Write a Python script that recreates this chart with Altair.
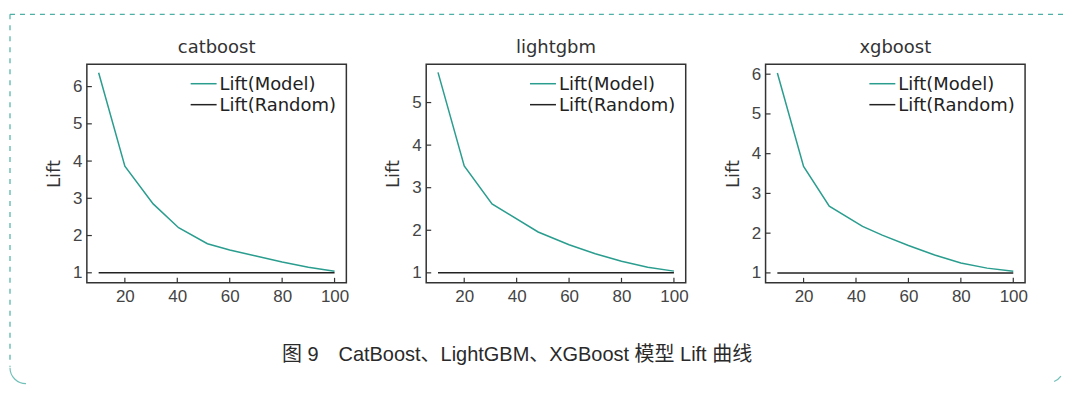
import altair as alt
import pandas as pd

# ---- data ----
names = ["catboost", "lightgbm", "xgboost"]

x_cat = [10, 20, 30.8, 40.5, 51.5, 60, 70, 80, 90, 100]
lift_cat = [6.37, 3.86, 2.85, 2.21, 1.78, 1.61, 1.45, 1.29, 1.15, 1.04]

x_light = [10, 20, 30.6, 48.2, 60, 70, 80, 90, 100]
lift_light = [5.71, 3.51, 2.62, 1.96, 1.66, 1.45, 1.27, 1.13, 1.04]

x_xgb = [10, 20, 29.8, 42.5, 50, 60, 70, 80, 90, 100]
lift_xgb = [6.03, 3.68, 2.68, 2.17, 1.95, 1.69, 1.45, 1.25, 1.12, 1.04]

random_x = [10, 100]
random_lift = [1, 1]

x_ticks = [20, 40, 60, 80, 100]
y_ticks_cat = [1, 2, 3, 4, 5, 6]
y_ticks_light = [1, 2, 3, 4, 5]
y_ticks_xgb = [1, 2, 3, 4, 5, 6]

y_dom_cat = [0.73, 6.6]
y_dom_light = [0.765, 5.9]
y_dom_xgb = [0.75, 6.25]
x_dom = [5.5, 104.5]

series = ["Lift(Model)", "Lift(Random)"]
series_colors = ["#2a9d8f", "#222222"]

caption = "图 9\u2003CatBoost、LightGBM、XGBoost 模型 Lift 曲线"

W, H = 260, 219
TICK_FONT = "Liberation Sans, Arial, sans-serif"
TEXT_FONT = "DejaVu Sans"
FRAME = "#4cb0a6"


def panel(name, xs, ys, ydom, yticks, decor=False):
    df = pd.concat([
        pd.DataFrame({"x": xs, "lift": ys, "series": series[0]}),
        pd.DataFrame({"x": random_x, "lift": random_lift, "series": series[1]}),
    ], ignore_index=True)

    color = alt.Color("series:N",
                      scale=alt.Scale(domain=series, range=series_colors),
                      legend=None)

    lines = alt.Chart(df).mark_line(strokeWidth=1.5).encode(
        x=alt.X("x:Q",
                scale=alt.Scale(domain=x_dom, nice=False, zero=False),
                axis=alt.Axis(values=x_ticks, title=None, ticks=False, domain=False,
                              grid=False, labelPadding=6, labelFont=TICK_FONT,
                              labelFontSize=17, labelColor="#444")),
        y=alt.Y("lift:Q",
                scale=alt.Scale(domain=ydom, nice=False, zero=False),
                axis=alt.Axis(values=yticks, title="Lift", ticks=False, domain=False,
                              grid=False, labelPadding=5, labelFont=TICK_FONT,
                              labelFontSize=17, labelColor="#444",
                              titleFont=TEXT_FONT, titleFontSize=18,
                              titleFontWeight="normal", titleColor="#333",
                              titlePadding=9)),
        color=color,
    )

    # inward tick marks
    xt = alt.Chart(pd.DataFrame({"x": x_ticks})).mark_rule(
        color="#333", strokeWidth=1.2).encode(
        x="x:Q", y=alt.value(H), y2=alt.value(H - 5))
    yt = alt.Chart(pd.DataFrame({"lift": yticks})).mark_rule(
        color="#333", strokeWidth=1.2).encode(
        y="lift:Q", x=alt.value(0), x2=alt.value(5))

    # panel title
    ttl = alt.Chart(pd.DataFrame({"t": [name]})).mark_text(
        font=TEXT_FONT, fontSize=18, color="#333", align="center",
        baseline="middle").encode(
        text="t:N", x=alt.value(W / 2), y=alt.value(-16))

    layers = [lines, xt, yt, ttl]

    # legend (inside, upper right)
    for i, s in enumerate(series):
        ld = pd.DataFrame({"series": [s]})
        ry = 19.5 + 21 * i
        layers.append(alt.Chart(ld).mark_rule(strokeWidth=1.5).encode(
            x=alt.value(104), x2=alt.value(130), y=alt.value(ry), color=color))
        layers.append(alt.Chart(ld).mark_text(
            font=TEXT_FONT, fontSize=18, color="#222", align="left",
            baseline="middle").encode(
            text="series:N", x=alt.value(133), y=alt.value(ry + 1)))

    if decor:
        one = pd.DataFrame({"k": [0]})
        top = alt.Chart(one).mark_rule(
            color=FRAME, strokeWidth=1.2, strokeDash=[5, 5]).encode(
            x=alt.value(-77), x2=alt.value(979), y=alt.value(-50))
        left = alt.Chart(one).mark_rule(
            color=FRAME, strokeWidth=1.2, strokeDash=[5, 6]).encode(
            x=alt.value(-77), y=alt.value(-50), y2=alt.value(303))
        bl = alt.Chart(one).mark_arc(color=FRAME, opacity=0.8).encode(
            x=alt.value(-61), y=alt.value(304),
            radius=alt.value(16.6), radius2=alt.value(15.4),
            theta=alt.value(3.1416), theta2=alt.value(4.7124))
        br = alt.Chart(one).mark_arc(color=FRAME, opacity=0.8).encode(
            x=alt.value(963), y=alt.value(303),
            radius=alt.value(16.6), radius2=alt.value(15.4),
            theta=alt.value(2.2), theta2=alt.value(2.75))
        cap = alt.Chart(pd.DataFrame({"t": [caption]})).mark_text(
            font="Liberation Sans, Noto Sans CJK SC", fontSize=20,
            color="#2a2a2a", align="center", baseline="middle").encode(
            text="t:N", x=alt.value(431), y=alt.value(291))
        layers += [top, left, bl, br, cap]

    return alt.layer(*layers).properties(width=W, height=H)


chart = alt.hconcat(
    panel(names[0], x_cat, lift_cat, y_dom_cat, y_ticks_cat, decor=True),
    panel(names[1], x_light, lift_light, y_dom_light, y_ticks_light),
    panel(names[2], x_xgb, lift_xgb, y_dom_xgb, y_ticks_xgb),
    spacing=80, bounds="flush",
).resolve_scale(color="independent").properties(
    padding={"left": 0, "top": 4, "right": 0, "bottom": 0},
    background="white",
).configure_view(stroke="#333", strokeWidth=1.5)

chart.save("out.html", embed_options={"renderer": "svg", "actions": False})
